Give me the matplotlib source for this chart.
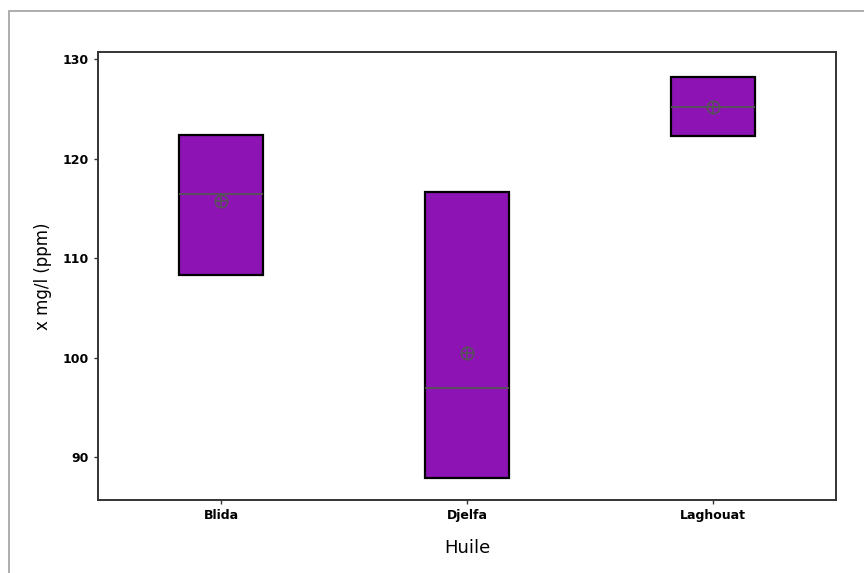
import numpy as np
import matplotlib.pyplot as plt
from matplotlib.patches import Rectangle

# Données
huiles = ['Blida', 'Djelfa', 'Laghouat']
q1 = [108.3, 87.9, 122.3]
q3 = [122.4, 116.6, 128.2]
mediane = [116.4, 97.0, 125.2]
moyenne = [115.7, 100.45, 125.2]

fig = plt.figure(figsize=(8.64, 5.73), dpi=100)
ax = fig.add_axes([98/864, 1-500/573, (836-98)/864, (500-52)/573])

# cadre du panneau
fig.patches.append(Rectangle((9/864, -0.1), 1.2, 1-11/573+0.1, transform=fig.transFigure,
                             fill=False, edgecolor='#a0a0a0', linewidth=1.2))

stats = []
for i in range(len(huiles)):
    stats.append(dict(label=huiles[i], q1=q1[i], q3=q3[i], med=mediane[i],
                      mean=moyenne[i], whislo=q1[i], whishi=q3[i], fliers=[]))

pos = np.arange(1, len(huiles) + 1)
ax.bxp(stats, positions=pos, widths=0.34, patch_artist=True, showcaps=False,
       showmeans=False,
       boxprops=dict(facecolor='#8e13b4', edgecolor='black', linewidth=1.6),
       medianprops=dict(color='#555555', linewidth=1.3),
       whiskerprops=dict(linewidth=0))

# symbole de la moyenne
ax.plot(pos, moyenne, 'o', ms=9, mfc='none', mec='#555555', mew=1.1)
ax.plot(pos, moyenne, '+', ms=9, color='#555555', mew=1.1)

ax.set_xlim(0.5, 3.5)
ax.set_ylim(85.7, 130.7)
ax.set_yticks([90, 100, 110, 120, 130])
ax.set_xticks(pos)
ax.set_xticklabels(huiles)
for s in ax.spines.values():
    s.set_color('#333333')
    s.set_linewidth(1.4)
ax.tick_params(length=3, width=1, color='#333333', labelsize=9)
for lab in ax.get_xticklabels() + ax.get_yticklabels():
    lab.set_fontweight('bold')

ax.set_xlabel('Huile', fontsize=13, labelpad=12)
ax.set_ylabel('x mg/l (ppm)', fontsize=12, labelpad=8)

fig.savefig('out.png', dpi=100)
